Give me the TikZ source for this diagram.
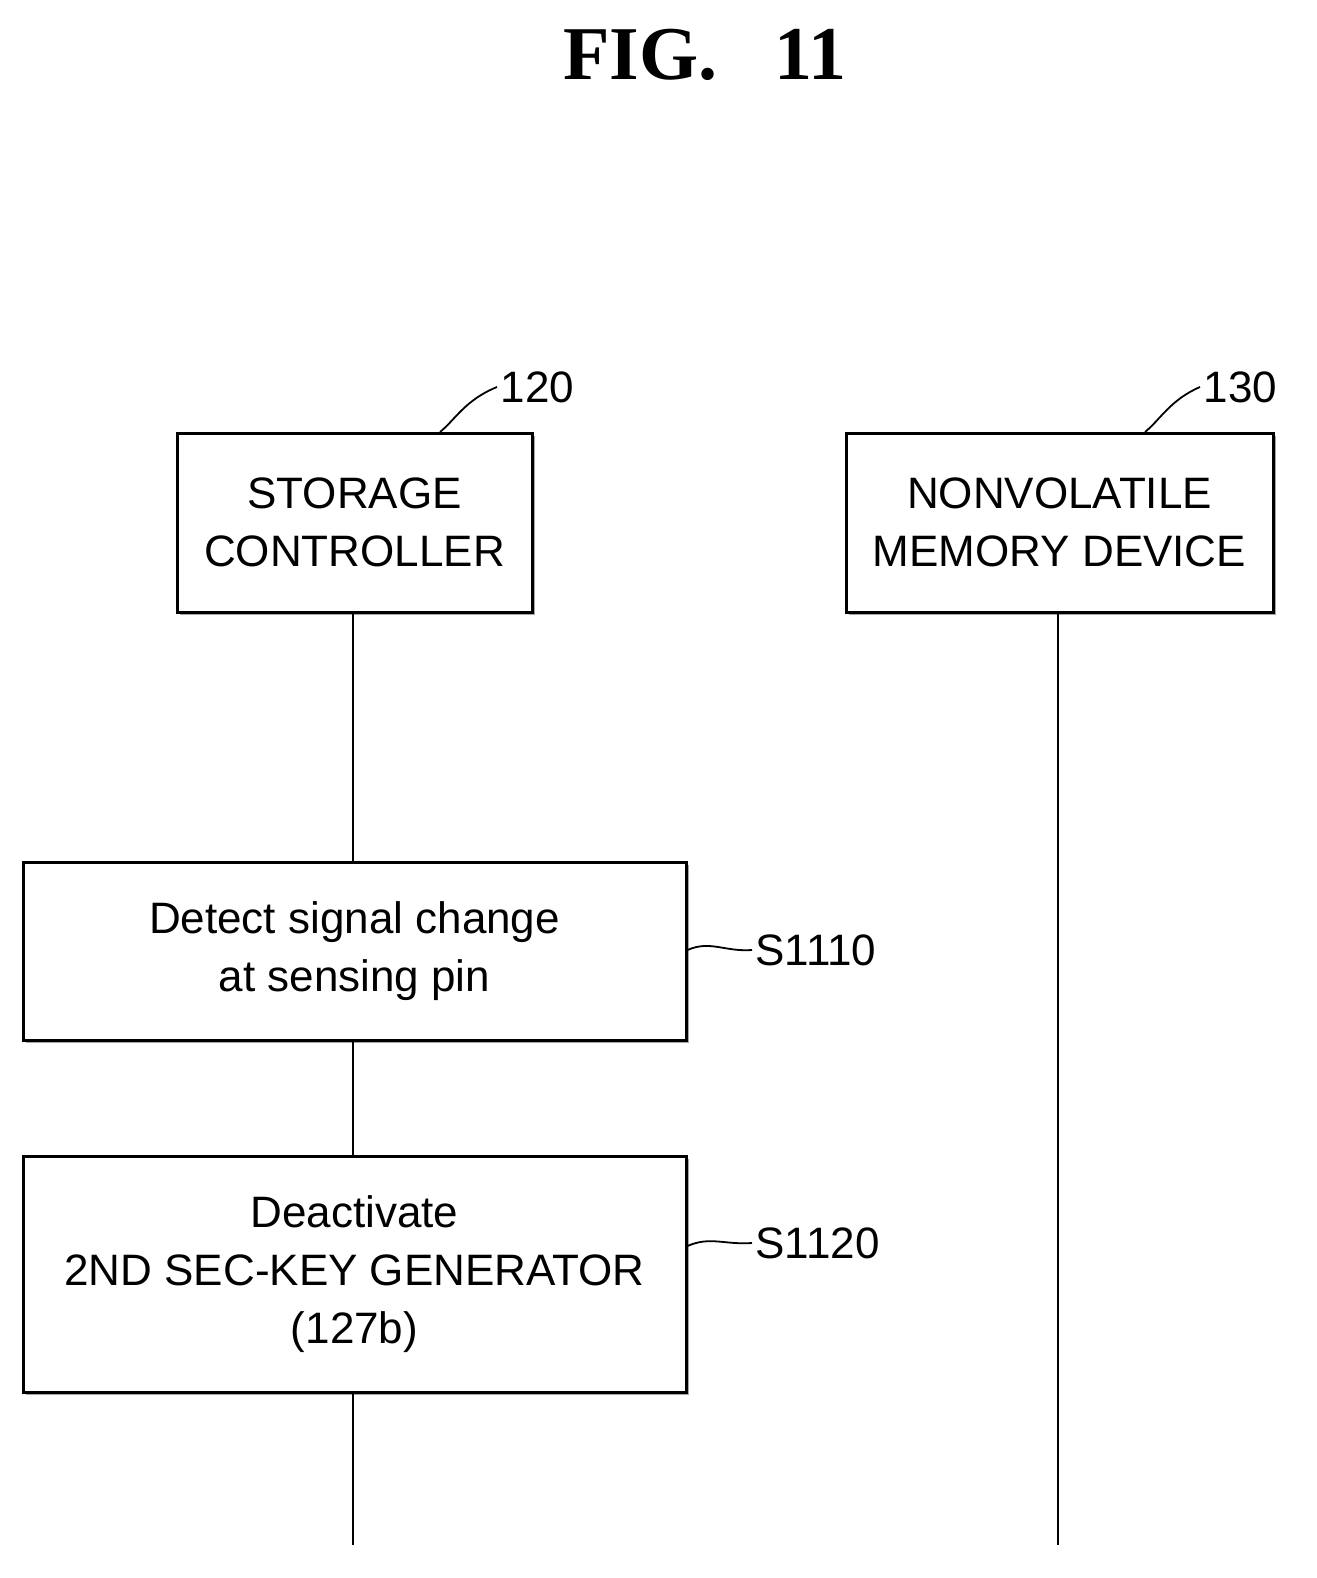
\documentclass[tikz,border=0pt]{standalone}
\usepackage{fontspec}
\usetikzlibrary{shadows}
\setmainfont{Liberation Sans}
\newfontfamily\titlefont{Liberation Serif}
\begin{document}
\begin{tikzpicture}[x=1pt,y=-1pt,
  box/.style={draw,line width=3pt,align=center,inner sep=0pt,font=\fontsize{44}{58}\selectfont,fill=white,
    drop shadow={shadow xshift=2.5pt,shadow yshift=-2.5pt,fill=gray,opacity=0.7}},
  life/.style={line width=2.5pt},
  lbl/.style={font=\fontsize{44}{50}\selectfont,anchor=west}]
\useasboundingbox (0,0) rectangle (1316,1578);
\node[font=\titlefont\bfseries\fontsize{76}{78}\selectfont] (title) at (705,55) {FIG.\ \ \ 11};
\node[box,minimum width=355pt,minimum height=179pt] (sc) at (354.5,522.5) {STORAGE\\CONTROLLER};
\node[box,minimum width=427pt,minimum height=179pt] (nvm) at (1059.5,522.5) {NONVOLATILE\\MEMORY DEVICE};
\node[box,minimum width=663pt,minimum height=178pt] (s1) at (354.5,951) {Detect signal change\\at sensing pin};
\node[box,minimum width=663pt,minimum height=236pt] (s2) at (354.5,1274) {Deactivate\\2ND SEC-KEY GENERATOR\\(127b)};
\coordinate (e1) at (353,1545);
\coordinate (e2) at (1058,1545);
\draw[life] (sc.south -| 353,0) -- (s1.north -| 353,0);
\draw[life] (s1.south -| 353,0) -- (s2.north -| 353,0);
\draw[life] (s2.south -| 353,0) -- (e1);
\draw[life] (nvm.south -| 1058,0) -- (e2);
\node[lbl] (l120) at (497,387) {120};
\node[lbl] (l130) at (1200,387) {130};
\node[lbl] (l1) at (752,950) {S1110};
\node[lbl] (l2) at (752,1243) {S1120};
\draw[line width=1.8pt] (440,432) .. controls (455,420) and (465,400) .. (l120.west);
\draw[line width=1.8pt] (1145,432) .. controls (1160,420) and (1170,400) .. (l130.west);
\draw[line width=1.8pt] (s1.east |- 0,950) .. controls (710,940) and (725,952) .. (l1.west);
\draw[line width=1.8pt] (s2.east |- 0,1246) .. controls (710,1236) and (725,1245) .. (l2.west);
\end{tikzpicture}
\end{document}
